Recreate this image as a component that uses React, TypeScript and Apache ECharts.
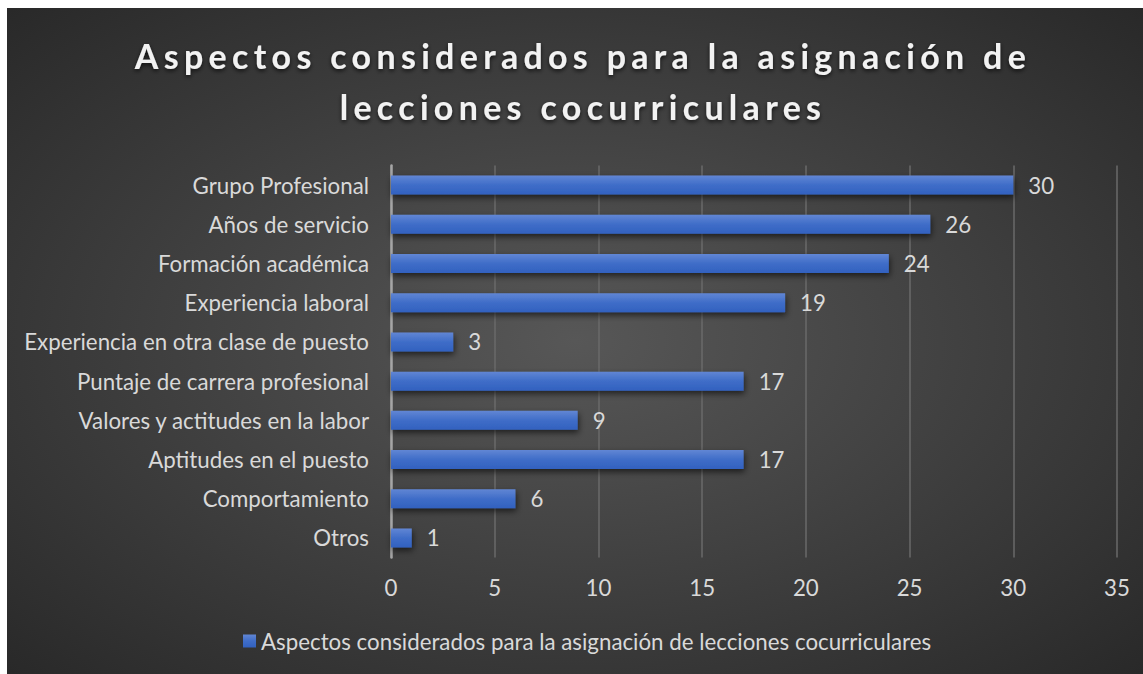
import React, { useEffect, useRef } from "react";
import * as echarts from "echarts";

const TITLE_LINES = ["Aspectos considerados para la asignación de", "lecciones cocurriculares"];
const SERIES_NAME = "Aspectos considerados para la asignación de lecciones cocurriculares";
const categories = [
  "Grupo Profesional",
  "Años de servicio",
  "Formación académica",
  "Experiencia laboral",
  "Experiencia en otra clase de puesto",
  "Puntaje de carrera profesional",
  "Valores y actitudes en la labor",
  "Aptitudes en el puesto",
  "Comportamiento",
  "Otros",
];
const values = [30, 26, 24, 19, 3, 17, 9, 17, 6, 1];
const xMin = 0;
const xMax = 35;
const xInterval = 5;

const FONT = "Lato, 'Open Sans', sans-serif";
const TEXT = "#d9d9d9";
const FS = 22.3;

export default function App() {
  const ref = useRef<HTMLDivElement>(null);
  useEffect(() => {
    if (!ref.current) return;
    const chart = echarts.init(ref.current, undefined, { renderer: "svg" });
    const barGrad = new echarts.graphic.LinearGradient(0, 0, 0, 1, [
      { offset: 0, color: "#6186d4" },
      { offset: 0.5, color: "#3f6dc8" },
      { offset: 1, color: "#3261bf" },
    ]);
    chart.setOption({
      animation: false,
      backgroundColor: new echarts.graphic.RadialGradient(0.5, 0.5, 0.75, [
        { offset: 0, color: "#575757" },
        { offset: 1, color: "#262626" },
      ]),
      title: {
        text: TITLE_LINES.join("\n"),
        left: "center",
        top: 17,
        textStyle: {
          color: "#f2f2f2",
          fontFamily: FONT,
          fontWeight: "bold",
          fontSize: 34,
          lineHeight: 51,
          textShadowColor: "rgba(0,0,0,0.7)",
          textShadowBlur: 4,
          textShadowOffsetY: 2,
        },
      },
      legend: {
        bottom: 17,
        left: 231,
        itemWidth: 13,
        itemHeight: 13,
        itemGap: 6,
        icon: "rect",
        textStyle: { color: TEXT, fontFamily: FONT, fontSize: FS },
        data: [SERIES_NAME],
      },
      grid: { left: 384, right: 26, top: 157.5, bottom: 116.4, containLabel: false },
      xAxis: {
        type: "value",
        min: xMin,
        max: xMax,
        interval: xInterval,
        axisLine: { show: false },
        axisTick: { show: false },
        axisLabel: { color: TEXT, fontFamily: FONT, fontSize: FS, margin: 19 },
        splitLine: { lineStyle: { color: "#6a6a6a", width: 1.5 } },
      },
      yAxis: {
        type: "category",
        inverse: true,
        data: categories,
        axisLine: { lineStyle: { color: "#a6a6a6", width: 2.5 } },
        axisTick: { show: false },
        axisLabel: { color: TEXT, fontFamily: FONT, fontSize: FS, margin: 22 },
      },
      series: [
        {
          name: SERIES_NAME,
          type: "bar",
          data: values,
          barWidth: 19,
          itemStyle: {
            color: barGrad,
            shadowColor: "rgba(0,0,0,0.6)",
            shadowBlur: 6,
            shadowOffsetY: 3,
            shadowOffsetX: 1,
          },
          label: {
            show: true,
            position: "right",
            distance: 15,
            color: TEXT,
            fontFamily: FONT,
            fontSize: FS,
          },
        },
      ],
    });
    // widen the title's letter spacing as in the reference
    const texts = ref.current.querySelectorAll("text");
    texts.forEach((t) => {
      if (TITLE_LINES.includes((t.textContent || "").trim())) {
        (t as SVGTextElement).style.letterSpacing = "5.3px";
        t.setAttribute("dx", "8");
      }
    });
    return () => chart.dispose();
  }, []);
  return (
    <div
      ref={ref}
      style={{ position: "absolute", left: 7, top: 8, width: 1136, height: 666 }}
    />
  );
}
